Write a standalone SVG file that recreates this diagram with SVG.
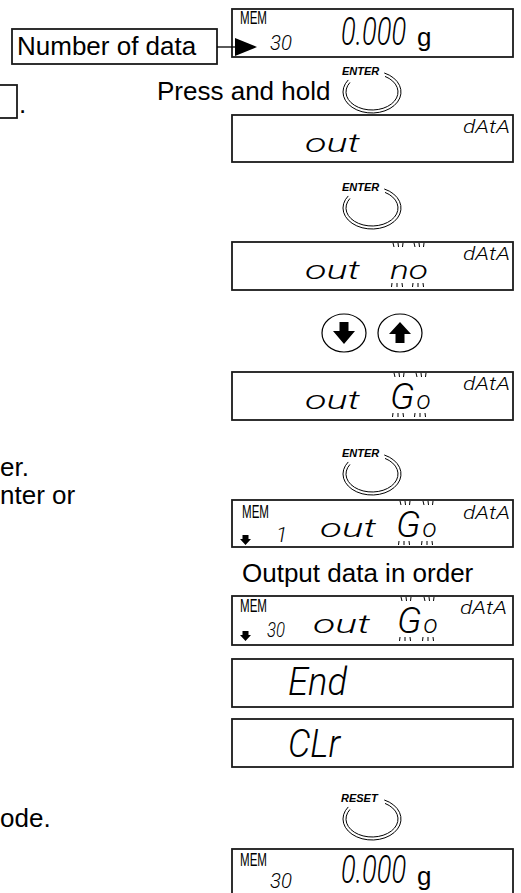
<svg xmlns="http://www.w3.org/2000/svg" xmlns:xlink="http://www.w3.org/1999/xlink" width="521" height="893" viewBox="0 0 521 893">
<style>
.box{fill:#fff;stroke:#1a1a1a;stroke-width:1.8}
.lbl{font-family:"Liberation Sans",Arial,sans-serif;font-size:26px;fill:#000}
.seg{font-family:Roboto,Inter,Lato,"DejaVu Sans",sans-serif;font-style:italic;font-weight:300;fill:#000}
.mem{font-family:"Liberation Sans",Arial,sans-serif;font-size:18px;fill:#000}
.key{font-family:"Liberation Sans",Arial,sans-serif;font-weight:bold;font-style:italic;font-size:11px;fill:#000}
.arc{fill:none;stroke:#000;stroke-width:1}
.tick{fill:none;stroke:#000;stroke-width:1}
.ring{fill:#fff;stroke:#000;stroke-width:1.2}
.conn{fill:none;stroke:#000;stroke-width:1.3}
</style>
<defs>
<g id="btnArc">
<path class="arc" d="M12.26,-19.03 A29,21 0 1 1 -23.75,-12.05"/>
<path class="arc" d="M13,-15.59 A26,18 0 1 1 -22.05,-9.54"/>
</g>
<g id="blink">
<path class="tick" d="M3,1 L4,5 M8,1 L8.5,5 M13,1 L12.5,5 M2,41 L1.5,45 M7,41 L7,45 M12,41 L12.5,45"/>
</g>
<path id="dnArrow" d="M2.5,0 H8.5 V4 H11 L5.5,10 L0,4 H2.5 Z"/>
<marker id="tri" markerUnits="userSpaceOnUse" markerWidth="22" markerHeight="18" refX="0" refY="9" orient="auto">
<path d="M0,0 L22,9 L0,18 Z" fill="#000"/>
</marker>
</defs>
<rect width="521" height="893" fill="#fff"/>

<g id="left-texts">
<rect class="box" x="-2" y="85" width="19" height="33"/>
<text class="lbl" x="19" y="113">.</text>
<text class="lbl" x="0" y="476">er.</text>
<text class="lbl" x="0" y="504">nter or</text>
<text class="lbl" x="0" y="827">ode.</text>
</g>

<g id="number-of-data">
<rect class="box" x="12" y="29" width="205" height="35"/>
<text class="lbl" x="17" y="55">Number of data</text>
</g>

<g id="display-top">
<rect class="box" x="232" y="9" width="281" height="48"/>
<text class="mem" x="240" y="24" textLength="27" lengthAdjust="spacingAndGlyphs">MEM</text>
<text class="seg" x="270" y="50" font-size="21" textLength="22" lengthAdjust="spacingAndGlyphs">30</text>
<text class="seg" transform="translate(341,45) scale(0.70,1)" font-size="39">0.000</text>
<text class="lbl" x="417" y="46" font-size="40">g</text>
</g>

<g id="connectors">
<line class="conn" x1="217" y1="47" x2="235" y2="47" marker-end="url(#tri)"/>
</g>

<g id="press-hold">
<text class="lbl" x="157" y="100">Press and hold</text>
</g>

<g id="btn-enter-1">
<text class="key" x="342" y="75">ENTER</text>
<use xlink:href="#btnArc" x="372" y="92"/>
</g>

<g id="display-out">
<rect class="box" x="232" y="115" width="281" height="47"/>
<text class="seg" x="305" y="152" font-size="26" textLength="55" lengthAdjust="spacingAndGlyphs">out</text>
<text class="seg" x="463" y="133" font-size="18" textLength="47" lengthAdjust="spacingAndGlyphs">dAtA</text>
</g>

<g id="btn-enter-2">
<text class="key" x="342" y="191">ENTER</text>
<use xlink:href="#btnArc" x="372" y="208"/>
</g>

<g id="display-out-no">
<rect class="box" x="232" y="242" width="281" height="48"/>
<text class="seg" x="305" y="279" font-size="26" textLength="55" lengthAdjust="spacingAndGlyphs">out</text>
<text class="seg" x="390" y="279" font-size="26" textLength="38" lengthAdjust="spacingAndGlyphs">no</text>
<use xlink:href="#blink" x="390" y="242"/>
<use xlink:href="#blink" x="411" y="242"/>
<text class="seg" x="463" y="260" font-size="18" textLength="47" lengthAdjust="spacingAndGlyphs">dAtA</text>
</g>

<g id="btn-arrows">
<ellipse class="ring" cx="344" cy="333" rx="22" ry="19"/>
<path d="M339.5,322 H348.5 V331 H355 L344,344 L333,331 H339.5 Z" fill="#000"/>
<ellipse class="ring" cx="400" cy="333" rx="22" ry="19"/>
<path d="M400,322 L411,334 H404.5 V343 H395.5 V334 H389 Z" fill="#000"/>
</g>

<g id="display-out-go">
<rect class="box" x="232" y="372" width="281" height="48"/>
<text class="seg" x="305" y="409" font-size="26" textLength="55" lengthAdjust="spacingAndGlyphs">out</text>
<text class="seg" x="390" y="409"><tspan font-size="37">G</tspan><tspan font-size="26" dx="2">o</tspan></text>
<use xlink:href="#blink" x="391" y="372"/>
<use xlink:href="#blink" x="413" y="372"/>
<text class="seg" x="463" y="390" font-size="18" textLength="47" lengthAdjust="spacingAndGlyphs">dAtA</text>
</g>

<g id="btn-enter-3">
<text class="key" x="342" y="457">ENTER</text>
<use xlink:href="#btnArc" x="372" y="474"/>
</g>

<g id="display-mem1">
<rect class="box" x="232" y="500" width="281" height="47"/>
<text class="mem" x="242" y="518" textLength="27" lengthAdjust="spacingAndGlyphs">MEM</text>
<use xlink:href="#dnArrow" x="240" y="535"/>
<text class="seg" x="276" y="542" font-size="21">1</text>
<text class="seg" x="320" y="537" font-size="26" textLength="56" lengthAdjust="spacingAndGlyphs">out</text>
<text class="seg" x="396" y="537"><tspan font-size="37">G</tspan><tspan font-size="26" dx="2">o</tspan></text>
<use xlink:href="#blink" x="397" y="500"/>
<use xlink:href="#blink" x="420" y="500"/>
<text class="seg" x="463" y="519" font-size="18" textLength="47" lengthAdjust="spacingAndGlyphs">dAtA</text>
</g>

<g id="output-order">
<text class="lbl" x="242" y="582">Output data in order</text>
</g>

<g id="display-mem30">
<rect class="box" x="232" y="596" width="281" height="49"/>
<text class="mem" x="240" y="612" textLength="27" lengthAdjust="spacingAndGlyphs">MEM</text>
<use xlink:href="#dnArrow" x="240" y="631"/>
<text class="seg" x="267" y="637" font-size="20" textLength="18" lengthAdjust="spacingAndGlyphs">30</text>
<text class="seg" x="313" y="633" font-size="26" textLength="57" lengthAdjust="spacingAndGlyphs">out</text>
<text class="seg" x="397" y="633"><tspan font-size="37">G</tspan><tspan font-size="26" dx="2">o</tspan></text>
<use xlink:href="#blink" x="398" y="596"/>
<use xlink:href="#blink" x="421" y="596"/>
<text class="seg" x="460" y="614" font-size="18" textLength="47" lengthAdjust="spacingAndGlyphs">dAtA</text>
</g>

<g id="display-end">
<rect class="box" x="232" y="659" width="281" height="48"/>
<text class="seg" x="288" y="695" font-size="39" textLength="59" lengthAdjust="spacingAndGlyphs">End</text>
</g>

<g id="display-clr">
<rect class="box" x="232" y="719" width="281" height="48"/>
<text class="seg" x="288" y="757" font-size="39" textLength="52" lengthAdjust="spacingAndGlyphs">CLr</text>
</g>

<g id="btn-reset">
<text class="key" x="341" y="802">RESET</text>
<use xlink:href="#btnArc" x="372" y="819"/>
</g>

<g id="display-bottom">
<rect class="box" x="232" y="849" width="281" height="52"/>
<text class="mem" x="240" y="866" textLength="27" lengthAdjust="spacingAndGlyphs">MEM</text>
<text class="seg" x="270" y="888" font-size="21" textLength="22" lengthAdjust="spacingAndGlyphs">30</text>
<text class="seg" transform="translate(341,883) scale(0.70,1)" font-size="39">0.000</text>
<text class="lbl" x="417" y="885" font-size="40">g</text>
</g>
</svg>
